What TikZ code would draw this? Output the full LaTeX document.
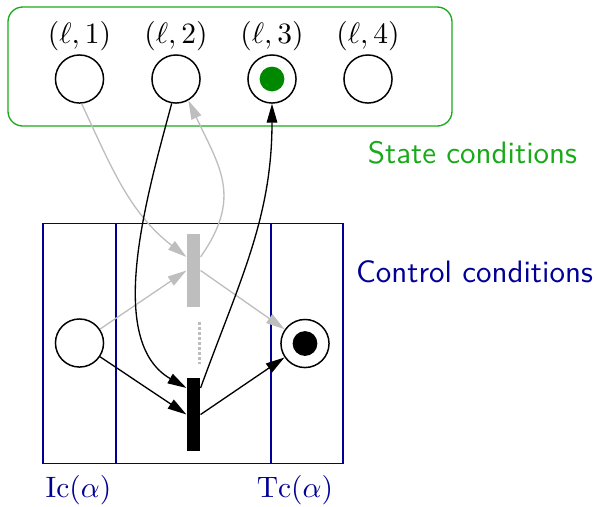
\documentclass[tikz,border=0pt]{standalone}
\usepackage{tikz}
\usetikzlibrary{arrows.meta, positioning, calc}
\definecolor{stategreen}{RGB}{25,170,25}
\definecolor{tokengreen}{RGB}{0,136,0}
\definecolor{ctrlblue}{RGB}{0,0,150}
\definecolor{faded}{RGB}{190,190,190}

\begin{document}
\begin{tikzpicture}[
    x=0.339pt, y=-0.339pt,
    place/.style={draw=black, circle, minimum size=16.3pt, inner sep=0pt, line width=0.5pt},
    token/.style={circle, minimum size=8.4pt, inner sep=0pt},
    trans/.style={rectangle, minimum width=4.4pt, minimum height=24.7pt, inner sep=0pt},
    arrow/.style={-{Triangle[length=6.4pt,width=3.6pt]}, line width=0.45pt},
    ctrl/.style={text=ctrlblue},
    heading/.style={font=\fontsize{10.5}{12}\selectfont\sffamily, anchor=base}
]
\useasboundingbox (0,0) rectangle (597,506);

% State conditions (top box)
\draw[stategreen, rounded corners=5pt, line width=0.45pt] (8,7) rectangle (452,126);
\foreach \i/\x in {1/79.5,2/176,3/272,4/368}{
    \node[place] (s\i) at (\x,79) {};
    \node (l\i) at (\x,36) {$(\ell,\i)$};
}
\node[token, fill=tokengreen] (k3) at (s3) {};
\node[heading, text=stategreen] (stlab) at (472.5,163) {State conditions};

% Control conditions (bottom box)
\draw[ctrlblue, line width=0.35pt] (43,223) rectangle (343,463);
\draw[ctrlblue, line width=0.35pt] (116,223) -- (116,463);
\draw[ctrlblue, line width=0.35pt] (271,223) -- (271,463);
\node[heading, text=ctrlblue] (ctlab) at (474.5,282) {Control conditions};
\node[ctrl] (ic) at (78.5,490) {$\mathrm{Ic}(\alpha)$};
\node[ctrl] (tc) at (295,490) {$\mathrm{Tc}(\alpha)$};

% Transitions and control places
\node[trans, fill=faded] (tg) at (193.5,270.5) {};
\node[trans, fill=black] (tb) at (193.5,414.5) {};
\node[place] (pin) at (79.5,343) {};
\node[place] (pout) at (305,343.5) {};
\node[token, fill=black] (kout) at (pout) {};

% Faded transition
\draw[arrow, faded] (s1.-85) to[out=-65, in=142] ([yshift=4.6pt]tg.west);
\draw[arrow, faded] ([yshift=4.6pt]tg.east) to[out=55, in=-65, looseness=1.2] (s2.-60);
\draw[arrow, faded] (pin) -- (tg.west);
\draw[arrow, faded] (tg.east) -- (pout);
\draw[faded, line width=0.8pt, dash pattern=on 0.8pt off 0.9pt] ([shift={(-0.4pt,-5pt)}]tg.south east) -- ([shift={(-0.4pt,4.5pt)}]tb.north east);

% Firing transition
\draw[arrow] (s2.-100) to[out=-105, in=150, looseness=0.85] ([yshift=9pt]tb.west);
\draw[arrow] ([yshift=9pt]tb.east) to[out=70, in=-90] (s3.south);
\draw[arrow] (pin) -- (tb.west);
\draw[arrow] (tb.east) -- (pout);

\end{tikzpicture}
\end{document}
